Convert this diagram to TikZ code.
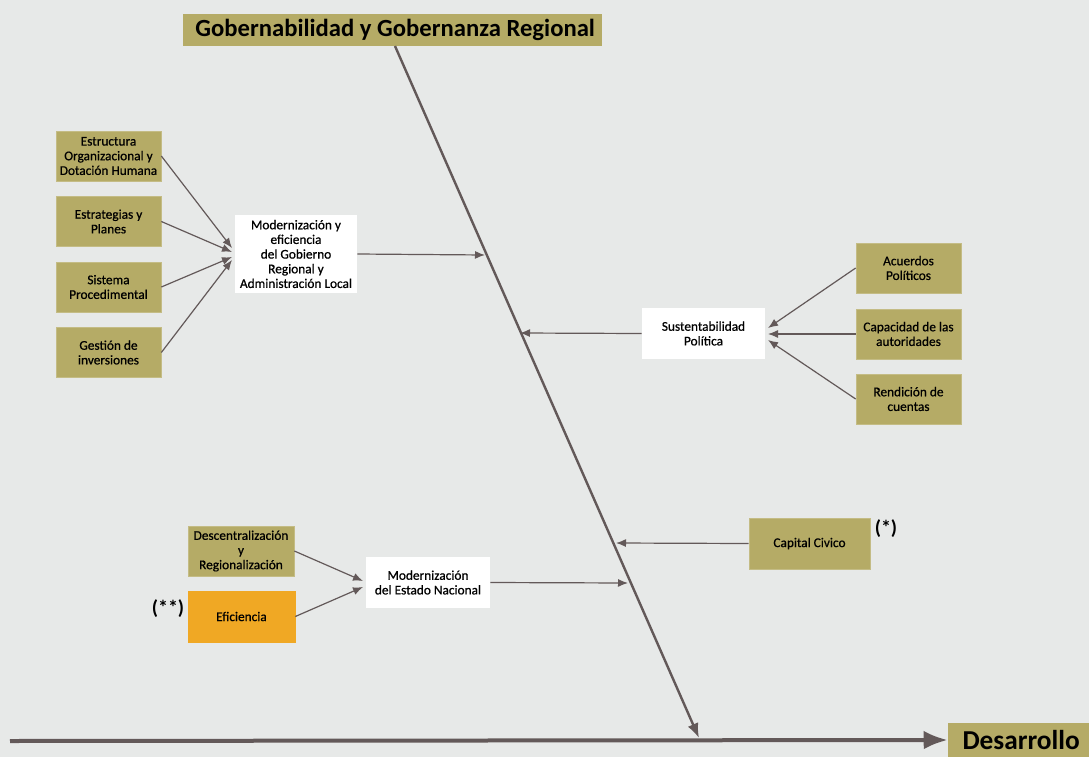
\documentclass[tikz,border=0pt]{standalone}
\usepackage{fontspec}
\setmainfont{Carlito}
\newfontfamily\boxfont[FakeBold=0.7]{Carlito}
\usetikzlibrary{arrows.meta,calc}
\definecolor{bg}{HTML}{E7E9E8}
\definecolor{olive}{HTML}{B5AB66}
\definecolor{orangebox}{HTML}{F0A824}
\definecolor{linec}{HTML}{635959}
\begin{document}
\begin{tikzpicture}[x=0.75pt,y=-0.75pt,
  cause/.style={fill=olive, draw=olive!80!white, line width=0.5pt, minimum width=78.75pt, minimum height=37.5pt, inner sep=1pt, align=center, font=\boxfont\fontsize{10}{11}\selectfont, text=black},
  sub/.style={fill=white, minimum height=38.25pt, inner sep=1pt, align=center, font=\boxfont\fontsize{10}{11}\selectfont, text=black},
  conn/.style={draw=linec, line width=0.9pt, -{Latex[length=7.5pt,width=6pt]}},
  star/.style={font=\bfseries\fontsize{15}{15}\selectfont, inner sep=0pt},
  titlebox/.style={fill=olive, minimum width=314.25pt, minimum height=24pt, inner sep=0pt, font=\bfseries\fontsize{18.5}{20}\selectfont},
  goalbox/.style={fill=olive, minimum width=105.75pt, minimum height=25.5pt, inner sep=0pt, font=\bfseries\fontsize{20.5}{22}\selectfont}
]
\fill[bg] (0,0) rectangle (1089,757);
\useasboundingbox (0,0) rectangle (1089,757);

% head and spine
\node[titlebox] (title) at (392.5,30) {\hspace{4pt}Gobernabilidad y Gobernanza Regional};
\node[goalbox] (goal) at (1018.5,740) {\hspace{4pt}Desarrollo};
\coordinate (sstart) at (10,741);
\coordinate (dtop) at (395,46);
\coordinate (dtip) at (699,738);
\draw[draw=linec, line width=3pt, -{Latex[length=18pt,width=14pt]}] (sstart) -- (goal.west);
\draw[draw=linec, line width=1.8pt, -{Latex[length=11pt,width=8.5pt]}] (dtop) -- (dtip);

% points on the diagonal
\coordinate (d1) at (485,255);
\coordinate (d2) at (520,333);
\coordinate (d3) at (616,543);
\coordinate (d4) at (628,583);

% left upper group
\node[cause] (b1) at (108.5,156) {Estructura\\Organizacional y\\Dotación Humana};
\node[cause] (b2) at (108.5,221.5) {Estrategias y\\Planes};
\node[cause] (b3) at (108.5,287) {Sistema\\Procedimental};
\node[cause] (b4) at (108.5,352.5) {Gestión de\\inversiones};
\node[sub, minimum width=91.5pt, minimum height=58.5pt] (m) at (296,254) {Modernización y\\eficiencia\\del Gobierno\\Regional y\\Administración Local};
\coordinate (m1) at (232,248);
\coordinate (m2) at (232,252);
\coordinate (m3) at (232,257);
\coordinate (m4) at (232,260);
\draw[conn] (b1.east) -- (m1);
\draw[conn] (b2.east) -- (m2);
\draw[conn] (b3.east) -- (m3);
\draw[conn] (b4.east) -- (m4);
\draw[conn] (m.east) -- (d1);

% right group
\node[cause] (r1) at (908.5,268) {Acuerdos\\Políticos};
\node[cause] (r2) at (908.5,334) {Capacidad de las\\autoridades};
\node[cause] (r3) at (908.5,399) {Rendición de\\cuentas};
\node[sub, minimum width=92.25pt] (s) at (703.5,333.5) {Sustentabilidad\\Política};
\coordinate (s1) at (768,328);
\coordinate (s2) at (768,334);
\coordinate (s3) at (768,340);
\draw[conn] (r1.west) -- (s1);
\draw[conn] (r2.west) -- (s2);
\draw[conn] (r3.west) -- (s3);
\draw[conn] (s.west) -- (d2);

% capital civico
\node[cause, minimum width=90.75pt, minimum height=38.25pt] (c) at (809.5,543.5) {Capital Civico};
\node[star] (cstar) at (886,529) {(*)};
\draw[conn] (c.west) -- (d3);

% lower left group
\node[cause, minimum width=79.5pt] (dr) at (241,551) {Descentralización\\y\\Regionalización};
\node[cause, fill=orangebox, draw=orangebox, minimum width=80.25pt, minimum height=38.25pt] (ef) at (241.5,616.5) {Eficiencia};
\node[star] (estar) at (168,609) {(**)};
\node[sub, minimum width=93pt] (en) at (428,582.5) {Modernización\\del Estado Nacional};
\coordinate (e1) at (363,581);
\coordinate (e2) at (363,587);
\draw[conn] (dr.east) -- (e1);
\draw[conn] (ef.east) -- (e2);
\draw[conn] (en.east) -- (d4);
\end{tikzpicture}
\end{document}
